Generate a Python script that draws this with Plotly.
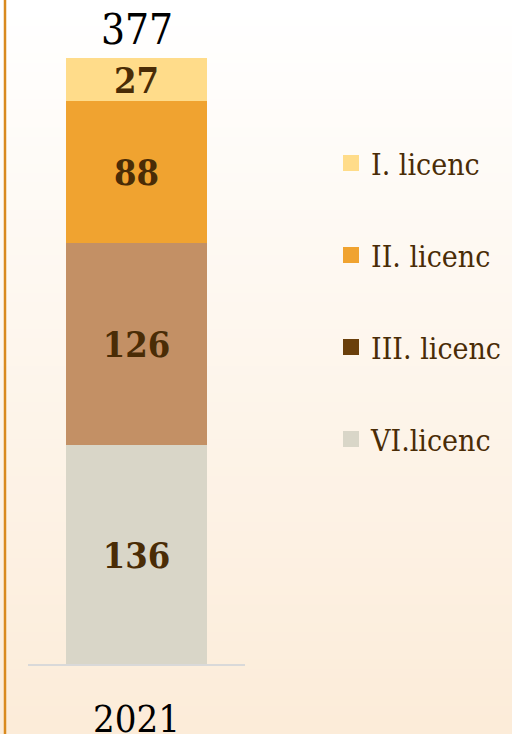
import plotly.graph_objects as go

# ---- data ----
categories = ["2021"]
series_names = ["I. licenc", "II. licenc", "III. licenc", "VI.licenc"]
vals_i = [27]
vals_ii = [88]
vals_iii = [126]
vals_vi = [136]
totals = [a + b + c + d for a, b, c, d in zip(vals_i, vals_ii, vals_iii, vals_vi)]

bar_colors = {"I. licenc": "#FFDC8A", "II. licenc": "#F0A330",
              "III. licenc": "#C39065", "VI.licenc": "#D9D6C8"}
legend_colors = {"I. licenc": "#FFDC8A", "II. licenc": "#F0A330",
                 "III. licenc": "#6A3F0B", "VI.licenc": "#D9D6C8"}
series_vals = {"I. licenc": vals_i, "II. licenc": vals_ii,
               "III. licenc": vals_iii, "VI.licenc": vals_vi}

SERIF = "DejaVu Serif Condensed, DejaVu Serif, serif"
LABEL_COL = "#4A2C06"

W, H = 512, 734
ML, MR, MT, MB = 28, 267, 58, 70
PW, PH = W - ML - MR, H - MT - MB

fig = go.Figure()

# stacked bars (bottom -> top)
for name in ["VI.licenc", "III. licenc", "II. licenc", "I. licenc"]:
    v = series_vals[name]
    fig.add_trace(go.Bar(
        x=categories, y=v, name=name, showlegend=False,
        marker=dict(color=bar_colors[name], line=dict(width=0)),
        text=[str(t) for t in v], textposition="inside",
        insidetextanchor="middle", textangle=0, constraintext="none",
        textfont=dict(family=SERIF, size=36, color=LABEL_COL, weight="bold"),
        cliponaxis=False,
    ))

# legend entries (legend swatch colours differ from bar colours in the source)
for i, name in enumerate(series_names):
    fig.add_trace(go.Scatter(
        x=[categories[0]], y=[None], mode="markers", name=name,
        legendgroup=f"g{i}", hoverinfo="skip",
        marker=dict(symbol="square", size=16, color=legend_colors[name]),
    ))

# total label above the stack
for i, t in enumerate(totals):
    fig.add_annotation(x=i, y=t, text=str(t), showarrow=False,
                       xref="x", yref="y",
                       yanchor="bottom", yshift=2,
                       font=dict(family=SERIF, size=42, color="#000000"))

# background gradient
shapes = []
n = 80
x0p, x1p = -ML / PW, (W - ML) / PW
top_p, bot_p = 1 + MT / PH, -MB / PH
c_top = (255, 255, 255)
c_bot = (252, 236, 217)
for k in range(n):
    f = k / (n - 1)
    col = tuple(round(c_top[j] + (c_bot[j] - c_top[j]) * f) for j in range(3))
    ya = top_p - (top_p - bot_p) * k / n
    yb = top_p - (top_p - bot_p) * (k + 1) / n
    shapes.append(dict(type="rect", xref="paper", yref="paper",
                       x0=x0p, x1=x1p, y0=yb - 0.002, y1=ya + 0.002,
                       fillcolor="rgb(%d,%d,%d)" % col, line=dict(width=0),
                       layer="below"))
# left border line
bx = (5 - ML) / PW
shapes.append(dict(type="line", xref="paper", yref="paper", x0=bx, x1=bx,
                   y0=bot_p, y1=top_p, line=dict(color="#D98A1F", width=2.5),
                   layer="above"))

fig.update_layout(
    width=W, height=H,
    margin=dict(l=ML, r=MR, t=MT, b=MB, autoexpand=False),
    paper_bgcolor="#FFFFFF", plot_bgcolor="rgba(0,0,0,0)",
    barmode="stack", bargap=0.35,
    shapes=shapes,
    showlegend=True,
    legend=dict(x=(331 - ML) / PW, xanchor="left",
                y=(664 - 137) / PH, yanchor="top",
                traceorder="grouped", tracegroupgap=50,
                font=dict(family=SERIF, size=30, color=LABEL_COL),
                bgcolor="rgba(0,0,0,0)", itemsizing="trace"),
    xaxis=dict(type="category", range=[-0.5, 0.5], autorange=False,
               showline=True, linecolor="#D9D9D9", linewidth=2,
               showgrid=False, zeroline=False, ticks="", automargin=False,
               tickfont=dict(family=SERIF, size=38, color="#000000"),
               ticklabelstandoff=20),
    yaxis=dict(range=[0, 377], visible=False, showgrid=False, zeroline=False,
               automargin=False),
)

fig.write_html("out.html", config={"displayModeBar": False},
               post_script="document.body.style.margin='0';document.body.style.overflow='hidden';")
